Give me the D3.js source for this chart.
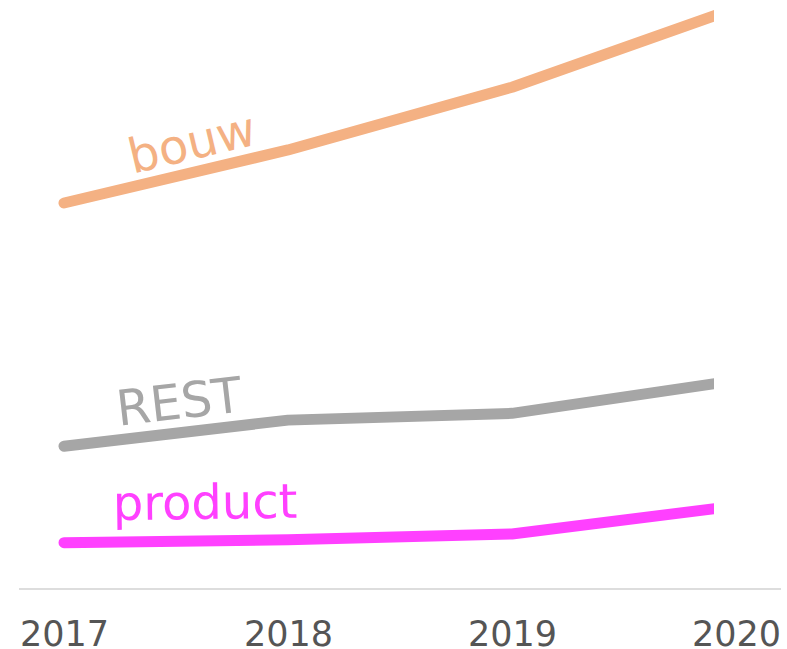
<!DOCTYPE html>
<html>
<head>
<meta charset="utf-8">
<script src="https://cdn.jsdelivr.net/npm/d3@7"></script>
<style>
  body { margin: 0; background: #fff; }
  svg { display: block; }
</style>
</head>
<body>
<div id="chart"></div>
<script>
var years = [2017, 2018, 2019, 2020];
var bouw = [200, 227.5, 260, 301];
var rest = [74, 87.5, 91, 108];
var product = [24, 25.5, 28.5, 43];
var seriesNames = ['bouw', 'REST', 'product'];
var seriesColors = ['#f4b183', '#a6a6a6', '#ff40ff'];

var W = 787, H = 649;

var series = [bouw, rest, product].map(function (vals, i) {
    return {
        name: seriesNames[i],
        color: seriesColors[i],
        values: vals.map(function (v, j) { return { year: years[j], value: v }; })
    };
});

// label placement along first segment
var labelStyle = {
    bouw: { t: 0.32, off: 12.5, size: 48 },
    REST: { t: 0.25, off: 14, size: 49 },
    product: { t: 0.22, off: 22, size: 48 }
};

var x = d3.scalePoint()
    .domain(years)
    .range([64, 736]);

var y = d3.scaleLinear()
    .domain([0, 300])
    .range([589, 10]);

var svg = d3.select('#chart')
    .append('svg')
    .attr('width', W)
    .attr('height', H);

svg.append('defs')
    .append('clipPath')
    .attr('id', 'plot-clip')
    .append('rect')
    .attr('x', 0)
    .attr('y', 0)
    .attr('width', 714)
    .attr('height', H);

// baseline
svg.append('line')
    .attr('x1', 19)
    .attr('x2', 781)
    .attr('y1', y(0))
    .attr('y2', y(0))
    .attr('stroke', '#dddddd')
    .attr('stroke-width', 2);

// x axis labels
var xAxis = d3.axisBottom(x).tickSize(0).tickPadding(0);
var gx = svg.append('g')
    .attr('transform', 'translate(0,' + 646 + ')')
    .call(xAxis);
gx.select('.domain').remove();
gx.selectAll('text')
    .attr('dy', 0)
    .attr('y', 0)
    .attr('fill', '#555555')
    .style('font-family', '"DejaVu Sans", Verdana, sans-serif')
    .style('font-size', '35px');

var line = d3.line()
    .x(function (d) { return x(d.year); })
    .y(function (d) { return y(d.value); });

svg.append('g')
    .attr('clip-path', 'url(#plot-clip)')
    .selectAll('path.series')
    .data(series)
    .enter()
    .append('path')
    .attr('class', 'series')
    .attr('d', function (d) { return line(d.values); })
    .attr('fill', 'none')
    .attr('stroke', function (d) { return d.color; })
    .attr('stroke-width', 11)
    .attr('stroke-linecap', 'round')
    .attr('stroke-linejoin', 'round');

// labels sitting on the first segment
svg.selectAll('text.label')
    .data(series)
    .enter()
    .append('text')
    .attr('class', 'label')
    .attr('transform', function (d) {
        var s = labelStyle[d.name];
        var x0 = x(d.values[0].year), y0 = y(d.values[0].value);
        var x1 = x(d.values[1].year), y1 = y(d.values[1].value);
        var ang = Math.atan2(y1 - y0, x1 - x0);
        var px = x0 + (x1 - x0) * s.t + Math.sin(ang) * s.off;
        var py = y0 + (y1 - y0) * s.t - Math.cos(ang) * s.off;
        return 'translate(' + px + ',' + py + ') rotate(' + (ang * 180 / Math.PI) + ')';
    })
    .attr('fill', function (d) { return d.color; })
    .style('font-family', '"DejaVu Sans", Verdana, sans-serif')
    .style('font-size', function (d) { return labelStyle[d.name].size + 'px'; })
    .text(function (d) { return d.name; });
</script>
</body>
</html>
